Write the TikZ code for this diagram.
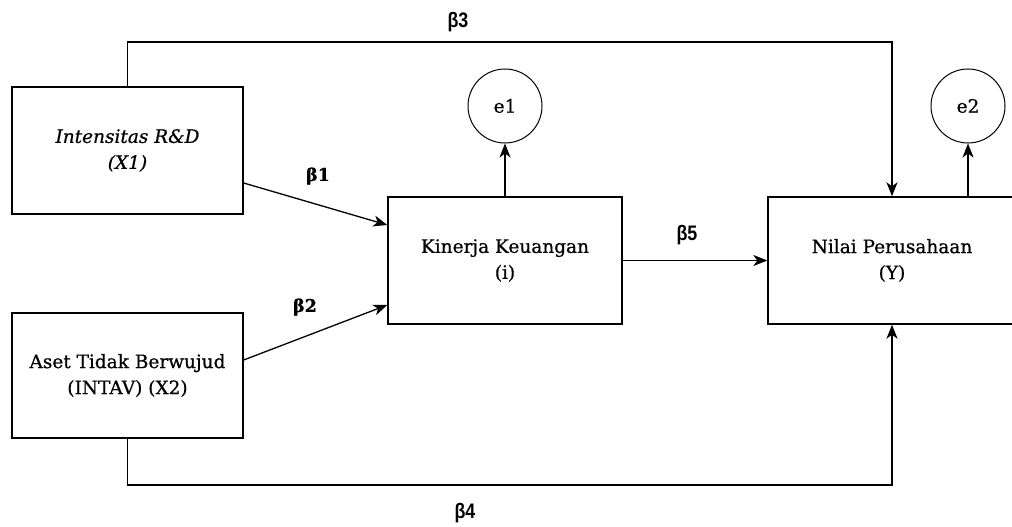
\documentclass[tikz,border=0pt]{standalone}
\usepackage{fontspec}
\setmainfont[FakeBold=0.7]{DejaVu Serif}
\newfontfamily\betasans[FakeStretch=0.85]{Liberation Sans}
\usetikzlibrary{arrows.meta}
\begin{document}
\begin{tikzpicture}[x=1pt,y=-1pt,
  box/.style={draw, line width=1.4pt, rectangle, align=center,
    font=\fontsize{18.5}{26}\selectfont},
  err/.style={draw, line width=1pt, circle, minimum size=74pt, inner sep=0pt,
    font=\fontsize{18.5}{20}\selectfont},
  arr/.style={line width=1.3pt, -{Stealth[length=14pt,width=11pt,inset=4pt]}},
  lbls/.style={font=\betasans\bfseries\fontsize{21}{22}\selectfont},
  lblr/.style={font=\bfseries\fontsize{17.5}{20}\selectfont}]
\useasboundingbox (0,0) rectangle (1012,527);
\clip (0,0) rectangle (1012,527);
\fill[white] (0,0) rectangle (1012,527);

\node[box, minimum width=231pt, minimum height=127pt] (x1) at (127.5,150.5)
  {\itshape Intensitas R\&D\\\itshape (X1)};
\node[box, minimum width=231pt, minimum height=125pt] (x2) at (127.5,375.5)
  {Aset Tidak Berwujud\\(INTAV) (X2)};
\node[box, minimum width=234pt, minimum height=127pt] (kin) at (505,260.5)
  {Kinerja Keuangan\\(i)};
\node[box, minimum width=248pt, minimum height=127pt] (y) at (892,260.5)
  {Nilai Perusahaan\\(Y)};
\node[err] (e1) at (505,106) {e1};
\node[err] (e2) at (968,106) {e2};

\coordinate (top) at (0,42);
\coordinate (bot) at (0,485);

\draw[arr] (x1.north) |- (top -| y.north) -- (y.north);
\draw[arr] (x2.south) |- (bot -| y.south) -- (y.south);
\draw[arr] (x1.east |- 0,183) -- (kin.west |- 0,225);
\draw[arr] (x2.east |- 0,360) -- (kin.west |- 0,305);
\draw[arr] (kin.east) -- (y.west);
\draw[arr] (kin.north) -- (e1.south);
\draw[arr] (e2.south |- y.north) -- (e2.south);

\node[lblr] (b1) at (318,176) {β1};
\node[lblr] (b2) at (305,307) {β2};
\node[lbls] (b3) at (458,22) {β3};
\node[lbls] (b4) at (465,513) {β4};
\node[lbls] (b5) at (687,235) {β5};
\end{tikzpicture}
\end{document}
